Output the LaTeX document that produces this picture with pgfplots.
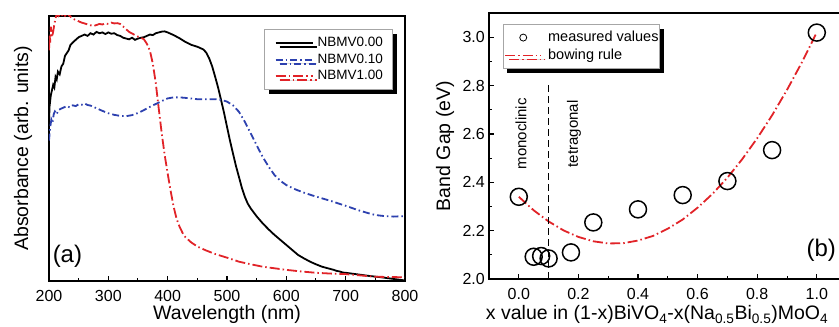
\documentclass[border=0pt]{standalone}
\usepackage{pgfplots}
\pgfplotsset{compat=1.18}
\usepackage{fontspec}
\setmainfont{Liberation Sans}
\usetikzlibrary{shadows}
\definecolor{cblue}{RGB}{45,65,175}
\definecolor{cred}{RGB}{225,35,40}
\begin{document}
\begin{tikzpicture}[x=1pt,y=1pt]
\pgfplotsset{
  every axis/.append style={
    scale only axis,
    axis line style={line width=1.5pt},
    tick align=inside,
    major tick length=5pt, minor tick length=3pt,
    every tick/.style={black, line width=1.2pt},
    every minor tick/.style={black, line width=1pt},
    tick label style={font=\fontsize{16}{18}\selectfont, inner sep=0pt},
    label style={font=\fontsize{19.5}{22}\selectfont, inner sep=0pt},
    /pgf/number format/assume math mode=true,
    xtick pos=bottom, ytick pos=left,
    clip=true,
  },
}
% ---------- panel (a) ----------
\begin{axis}[
  at={(49pt,46pt)}, anchor=south west,
  width=356pt, height=265pt,
  xmin=200, xmax=800, ymin=0, ymax=1,
  xtick={200,300,...,800}, minor x tick num=1,
  ytick=\empty,
  xticklabel style={yshift=-9.5pt},
  xlabel={Wavelength (nm)},
  ylabel={Absorbance (arb. units)},
  xlabel style={at={(axis description cs:0.5,-0.128)}, anchor=center},
  ylabel style={at={(axis description cs:-0.073,0.5)}, anchor=center},
  legend style={at={(axis description cs:0.605,0.950)}, anchor=north west,
    draw=gray!70, line width=0.8pt, fill=white,
    drop shadow={shadow xshift=4pt, shadow yshift=-4pt, fill=black, opacity=1},
    font=\fontsize{13.5}{15}\selectfont,
    nodes={inner sep=0pt, text height=10pt, text depth=3pt},
    row sep=3.5pt, column sep=4pt, inner xsep=10pt, inner ysep=7pt},
  legend cell align=left,
  legend image code/.code={\draw[#1] (0pt,0pt) -- (37pt,0pt);},
]
\addplot[black, line width=1.8pt] coordinates {
(200,0.60)(201,0.66)(203,0.70)(205,0.72)(207,0.74)(209,0.73)(211,0.77)(213,0.76)(215,0.79)(218,0.78)(221,0.81)(224,0.82)(227,0.85)(230,0.86)(233,0.87)(236,0.89)(240,0.90)(245,0.91)(250,0.92)(255,0.925)(260,0.93)(265,0.925)(270,0.935)(275,0.93)(280,0.94)(285,0.935)(290,0.938)(295,0.932)(300,0.938)(305,0.933)(310,0.935)(315,0.928)(320,0.925)(325,0.918)(330,0.915)(335,0.912)(340,0.918)(345,0.91)(350,0.915)(355,0.918)(360,0.92)(365,0.925)(370,0.93)(375,0.928)(380,0.935)(385,0.938)(390,0.941)(395,0.942)(400,0.938)(410,0.928)(420,0.916)(430,0.902)(440,0.891)(450,0.884)(460,0.874)(465,0.862)(470,0.840)(475,0.81)(480,0.771)(485,0.73)(490,0.683)(495,0.635)(500,0.582)(505,0.53)(510,0.482)(515,0.435)(520,0.394)(525,0.352)(530,0.318)(535,0.292)(540,0.274)(550,0.244)(560,0.218)(570,0.195)(580,0.174)(590,0.155)(600,0.136)(610,0.117)(620,0.098)(630,0.085)(640,0.073)(650,0.063)(660,0.054)(670,0.048)(680,0.042)(685,0.038)(690,0.036)(695,0.032)(700,0.031)(720,0.025)(740,0.019)(760,0.014)(780,0.008)(800,0.002)
};
\addlegendentry{NBMV0.00}
\addplot[cblue, line width=1.8pt, dash pattern=on 7pt off 3pt on 1.5pt off 3pt] coordinates {
(200,0.53)(202,0.58)(204,0.61)(206,0.60)(208,0.63)(210,0.64)(213,0.63)(216,0.645)(220,0.65)(225,0.655)(230,0.66)(235,0.655)(240,0.663)(245,0.66)(250,0.667)(255,0.665)(260,0.670)(265,0.664)(270,0.662)(280,0.652)(290,0.642)(300,0.633)(310,0.627)(320,0.623)(330,0.622)(340,0.626)(350,0.634)(360,0.645)(370,0.657)(380,0.668)(390,0.679)(400,0.689)(410,0.693)(420,0.693)(435,0.690)(450,0.686)(465,0.686)(480,0.686)(490,0.684)(500,0.677)(510,0.663)(520,0.639)(530,0.601)(540,0.557)(550,0.512)(560,0.469)(570,0.432)(580,0.400)(590,0.378)(600,0.362)(615,0.346)(630,0.333)(645,0.322)(660,0.312)(675,0.302)(690,0.291)(705,0.280)(720,0.268)(735,0.258)(750,0.249)(765,0.245)(780,0.243)(800,0.245)
};
\addlegendentry{NBMV0.10}
\addplot[cred, line width=1.8pt, dash pattern=on 10pt off 3pt on 1.5pt off 3pt] coordinates {
(200,0.87)(201,0.93)(202,0.90)(203,0.96)(205,0.92)(207,0.94)(209,0.97)(211,0.99)(213,1.01)(216,1.0)(220,1.01)(225,0.995)(230,1.01)(235,1.0)(240,0.99)(245,0.985)(250,0.98)(255,0.975)(260,0.972)(265,0.968)(270,0.965)(275,0.962)(280,0.966)(285,0.97)(290,0.968)(295,0.972)(300,0.970)(305,0.975)(310,0.972)(315,0.973)(320,0.970)(325,0.96)(330,0.95)(335,0.94)(340,0.934)(345,0.928)(350,0.922)(355,0.918)(360,0.912)(365,0.895)(370,0.870)(375,0.82)(380,0.746)(385,0.65)(390,0.557)(395,0.475)(400,0.406)(405,0.34)(410,0.281)(415,0.235)(420,0.205)(425,0.182)(430,0.165)(440,0.145)(450,0.130)(465,0.115)(480,0.102)(500,0.088)(520,0.073)(540,0.063)(560,0.054)(580,0.048)(600,0.042)(625,0.036)(650,0.031)(675,0.028)(700,0.026)(725,0.021)(750,0.016)(775,0.015)(800,0.014)
};
\addlegendentry{NBMV1.00}
\node[anchor=south west, font=\fontsize{24}{26}\selectfont, inner sep=0pt] at (rel axis cs:0.01,0.05) {(a)};
\end{axis}
% ---------- panel (b) ----------
\begin{axis}[
  at={(489pt,48pt)}, anchor=south west,
  width=357.6pt, height=266pt,
  xmin=-0.1, xmax=1.1, ymin=2.0, ymax=3.1,
  xtick={0,0.2,...,1.0}, minor x tick num=1,
  ytick={2.0,2.2,...,3.0}, minor y tick num=1,
  xticklabel style={yshift=-9pt, /pgf/number format/.cd, fixed, fixed zerofill, precision=1},
  yticklabel style={xshift=-4pt, /pgf/number format/.cd, fixed, fixed zerofill, precision=1},
  xlabel={x value in (1-x)BiVO\textsubscript{4}-x(Na\textsubscript{0.5}Bi\textsubscript{0.5})MoO\textsubscript{4}},
  ylabel={Band Gap (eV)},
  xlabel style={at={(axis description cs:0.47,-0.135)}, anchor=center},
  ylabel style={at={(axis description cs:-0.123,0.5)}, anchor=center},
  legend style={at={(axis description cs:0.039,0.958)}, anchor=north west,
    draw=gray!70, line width=0.8pt, fill=white,
    drop shadow={shadow xshift=4pt, shadow yshift=-4pt, fill=black, opacity=1},
    font=\fontsize{14.5}{16}\selectfont,
    nodes={inner sep=0pt, text height=10.5pt, text depth=3.5pt},
    row sep=4pt, column sep=6pt, inner xsep=1pt, inner ysep=6pt},
  legend cell align=left,
  legend image code/.code={\draw[mark repeat=2, mark phase=2, #1] plot coordinates {(0pt,0pt) (18pt,0pt) (36pt,0pt)};},
]
\addplot[only marks, mark=o, mark size=8.5pt, mark options={line width=1.5pt, black},
  legend image post style={mark size=3.5pt, mark options={line width=0.8pt, black}}] coordinates {
(0,2.340)(0.05,2.092)(0.075,2.095)(0.1,2.085)(0.175,2.110)(0.25,2.234)(0.4,2.288)(0.55,2.347)(0.7,2.405)(0.85,2.533)(1.0,3.019)
};
\addlegendentry{measured values}
\addplot[cred, line width=1.8pt, dash pattern=on 10pt off 3pt on 1.5pt off 3pt] coordinates {
(0,2.340)(0.05,2.284)(0.1,2.238)(0.15,2.201)(0.2,2.174)(0.25,2.156)(0.3,2.147)(0.35,2.148)(0.4,2.159)(0.45,2.178)(0.5,2.208)(0.55,2.246)(0.6,2.295)(0.65,2.352)(0.7,2.419)(0.75,2.496)(0.8,2.582)(0.85,2.677)(0.9,2.782)(0.95,2.896)(1.0,3.020)
};
\addlegendentry{bowing rule}
\addplot[black, line width=1.3pt, dash pattern=on 7pt off 4pt, forget plot] coordinates {(0.1,2.0)(0.1,2.815)};
\node[rotate=90, font=\fontsize{15}{17}\selectfont] at (axis cs:0.007,2.60) {monoclinic};
\node[rotate=90, font=\fontsize{15}{17}\selectfont] at (axis cs:0.185,2.60) {tetragonal};
\node[anchor=south east, font=\fontsize{24}{26}\selectfont, inner sep=0pt] at (axis cs:1.065,2.07) {(b)};
\end{axis}
\pgfresetboundingbox
\useasboundingbox (0pt,0pt) rectangle (839pt,327pt);
\end{tikzpicture}
\end{document}
